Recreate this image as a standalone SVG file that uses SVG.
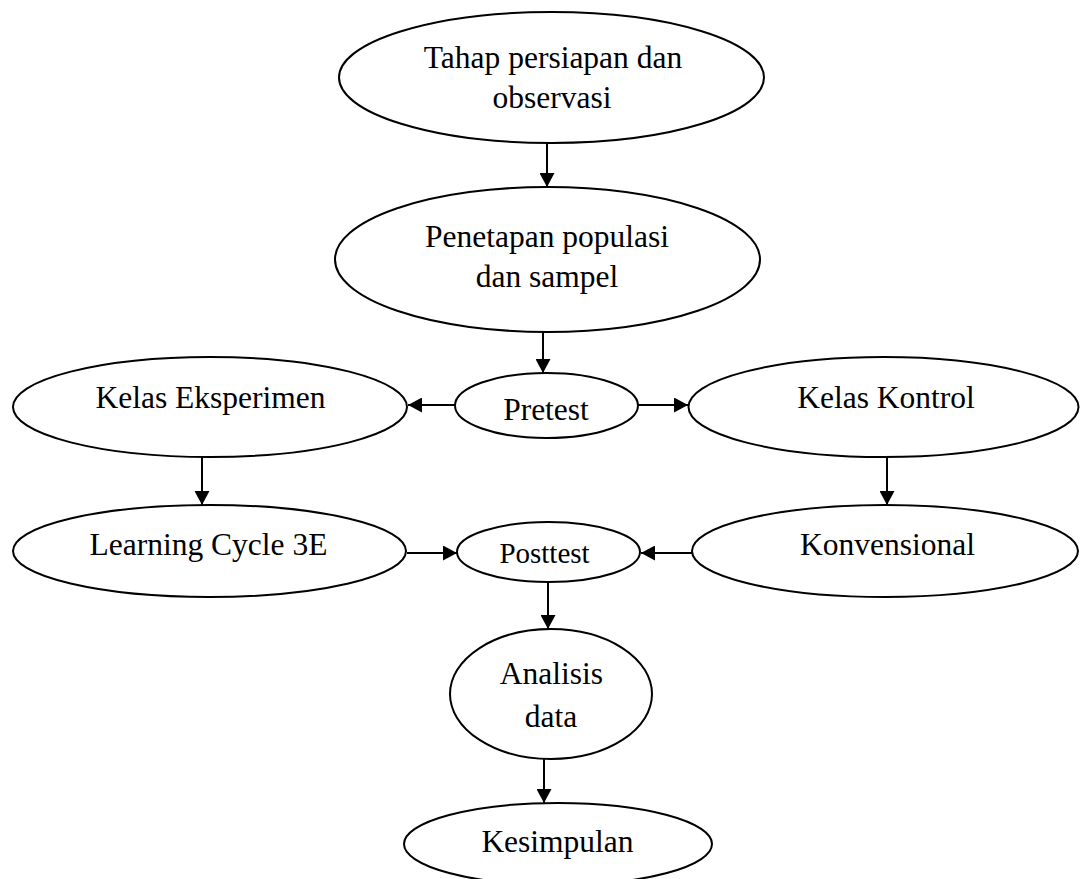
<svg xmlns="http://www.w3.org/2000/svg" width="1080" height="879" viewBox="0 0 1080 879">
<style>
.n{fill:#fff;stroke:#000;stroke-width:2}
.t{font-family:"Liberation Serif","Times New Roman",serif;font-size:31.5px;fill:#000;text-anchor:middle}
.s{font-size:29px}
.c{stroke:#000;stroke-width:2;fill:none;marker-end:url(#ah)}
</style>
<defs>
<marker id="ah" markerUnits="userSpaceOnUse" markerWidth="15" markerHeight="15" refX="14" refY="7.5" orient="auto">
<path d="M0,0 L14,7.5 L0,15 z" fill="#000"/>
</marker>
</defs>
<rect width="1080" height="879" fill="#fff"/>
<g id="connectors">
<line class="c" x1="547" y1="143" x2="547" y2="187"/>
<line class="c" x1="543" y1="332" x2="543" y2="373"/>
<line class="c" x1="455" y1="405" x2="408" y2="405"/>
<line class="c" x1="638" y1="405" x2="688" y2="405"/>
<line class="c" x1="202" y1="457" x2="202" y2="505"/>
<line class="c" x1="887" y1="457" x2="887" y2="505"/>
<line class="c" x1="407" y1="553" x2="457" y2="553"/>
<line class="c" x1="692" y1="553" x2="641" y2="553"/>
<line class="c" x1="548" y1="582" x2="548" y2="629"/>
<line class="c" x1="544" y1="759" x2="544" y2="803"/>
</g>
<g id="n1"><ellipse class="n" cx="551.5" cy="77.5" rx="212.5" ry="65.5"/>
<text class="t" x="553" y="68">Tahap persiapan dan</text><text class="t" x="552" y="108">observasi</text></g>
<g id="n2"><ellipse class="n" cx="547.5" cy="259.5" rx="212.5" ry="72.5"/>
<text class="t" x="547" y="247">Penetapan populasi</text><text class="t" x="547" y="287">dan sampel</text></g>
<g id="n3"><ellipse class="n" cx="546.5" cy="405.5" rx="91.5" ry="32.5"/>
<text class="t" x="546" y="420">Pretest</text></g>
<g id="n4"><ellipse class="n" cx="210" cy="407" rx="197" ry="50"/>
<text class="t" x="210.5" y="408">Kelas Eksperimen</text></g>
<g id="n5"><ellipse class="n" cx="883.5" cy="407" rx="195" ry="50"/>
<text class="t" x="886" y="408">Kelas Kontrol</text></g>
<g id="n6"><ellipse class="n" cx="209.5" cy="551" rx="196.5" ry="46"/>
<text class="t" x="208.5" y="555">Learning Cycle 3E</text></g>
<g id="n7"><ellipse class="n" cx="885" cy="551" rx="193" ry="46"/>
<text class="t" x="887.5" y="555">Konvensional</text></g>
<g id="n8"><ellipse class="n" cx="548.5" cy="552" rx="91.5" ry="30"/>
<text class="t s" x="544.5" y="563">Posttest</text></g>
<g id="n9"><ellipse class="n" cx="551" cy="694" rx="101" ry="65"/>
<text class="t" x="551.5" y="684">Analisis</text><text class="t" x="551" y="727">data</text></g>
<g id="n10"><ellipse class="n" cx="558" cy="844" rx="154" ry="41"/>
<text class="t" x="557.5" y="852">Kesimpulan</text></g>
</svg>
